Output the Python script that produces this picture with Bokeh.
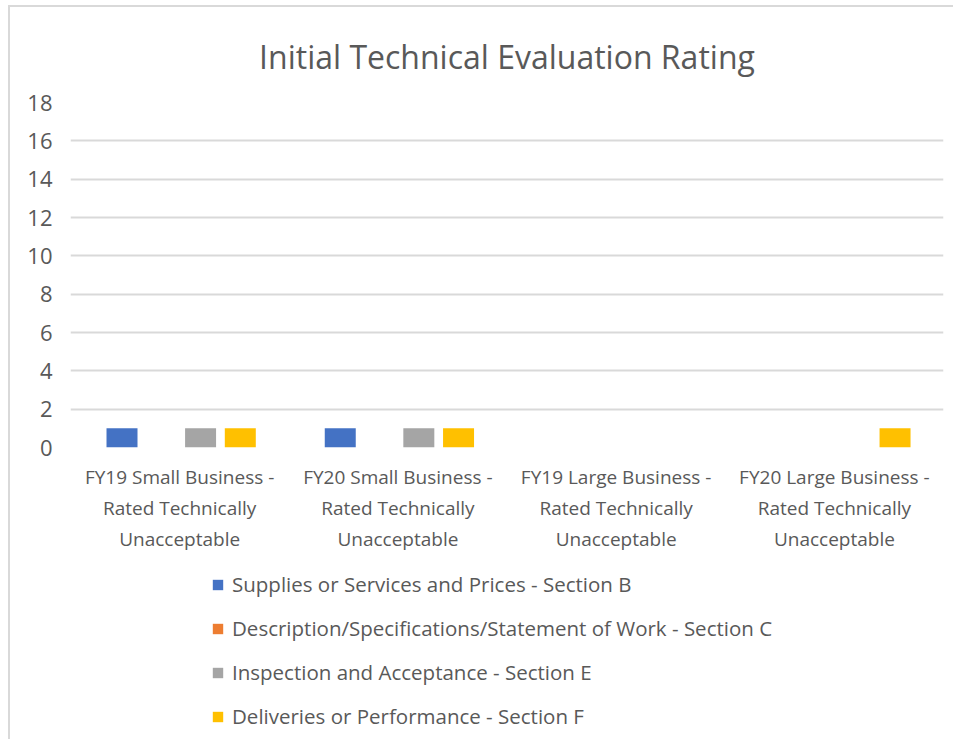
from bokeh.plotting import figure
from bokeh.layouts import column
from bokeh.models import ColumnDataSource, FactorRange, Legend, LegendItem, Range1d, FixedTicker
from bokeh.transform import dodge
from bokeh.embed import file_html
from bokeh.resources import INLINE

categories = [
    "FY19 Small Business -\nRated Technically\nUnacceptable",
    "FY20 Small Business -\nRated Technically\nUnacceptable",
    "FY19 Large Business -\nRated Technically\nUnacceptable",
    "FY20 Large Business -\nRated Technically\nUnacceptable",
]
series_names = [
    "Supplies or Services and Prices - Section B",
    "Description/Specifications/Statement of Work - Section C",
    "Inspection and Acceptance - Section E",
    "Deliveries or Performance - Section F",
]
section_b = [1, 1, 0, 0]
section_c = [0, 0, 0, 0]
section_e = [1, 1, 0, 0]
section_f = [1, 1, 0, 1]
y_ticks = [0, 2, 4, 6, 8, 10, 12, 14, 16, 18]

colors = ["#4472C4", "#ED7D31", "#A5A5A5", "#FFC000"]
offsets = [-0.264, -0.082, 0.096, 0.278]
FONT = "Open Sans"
TXT = "#595959"

source = ColumnDataSource(dict(cat=categories, b=section_b, c=section_c, e=section_e, f=section_f))

p = figure(x_range=FactorRange(*categories), y_range=Range1d(0, 18),
           frame_width=873, frame_height=345, output_backend="svg", toolbar_location=None,
           min_border_left=60, min_border_right=10, min_border_top=95, min_border_bottom=0)

p.title.text = "Initial Technical Evaluation Rating"
p.title.align = "center"
p.title.text_font = FONT
p.title.text_font_size = "32px"
p.title.text_font_style = "normal"
p.title.text_color = TXT
p.title.standoff = 45
p.title.vertical_align = "top"

for key, col, off in zip(["b", "c", "e", "f"], colors, offsets):
    p.vbar(x=dodge("cat", off, range=p.x_range), top=key, width=0.142, source=source,
           fill_color=col, line_color=None)

p.outline_line_color = None
p.xgrid.grid_line_color = None
p.ygrid.grid_line_color = "#D9D9D9"
p.ygrid.grid_line_width = 2
p.yaxis.ticker = FixedTicker(ticks=y_ticks)

for ax in (p.xaxis[0], p.yaxis[0]):
    ax.axis_line_color = None
    ax.major_tick_line_color = None
    ax.minor_tick_line_color = None
    ax.major_label_text_font = FONT
    ax.major_label_text_color = TXT

p.yaxis.major_label_text_font_size = "22px"
p.yaxis.major_label_standoff = 12
p.xaxis.major_label_text_font_size = "19px"
p.xaxis.major_label_standoff = 10

# legend panel below the chart (its bars lie outside its visible y range)
lp = figure(frame_width=873, frame_height=185, output_backend="svg", toolbar_location=None,
            min_border_left=60, min_border_right=10, min_border_top=0, min_border_bottom=0,
            x_range=p.x_range, y_range=Range1d(100, 101))
lp.axis.visible = False
lp.grid.visible = False
lp.outline_line_color = None
items = []
for key, name, col, off in zip(["b", "c", "e", "f"], series_names, colors, offsets):
    r = lp.vbar(x=dodge("cat", off, range=lp.x_range), top=key, width=0.142, source=source,
                fill_color=col, line_color=None)
    items.append(LegendItem(label=name, renderers=[r]))

legend = Legend(items=items, orientation="vertical", location=(141, 9),
                label_text_font=FONT, label_text_font_size="20.5px", label_text_color=TXT,
                glyph_width=13, glyph_height=13, label_height=20, spacing=16,
                padding=0, margin=0, border_line_color=None, background_fill_alpha=0,
                label_standoff=8)
lp.add_layout(legend, "center")

layout = column(p, lp, spacing=0,
                styles={"border-left": "2px solid #D9D9D9", "border-top": "2px solid #D9D9D9",
                        "margin-left": "8px", "margin-top": "5px"})

open("out.html", "w").write(file_html(layout, INLINE))
